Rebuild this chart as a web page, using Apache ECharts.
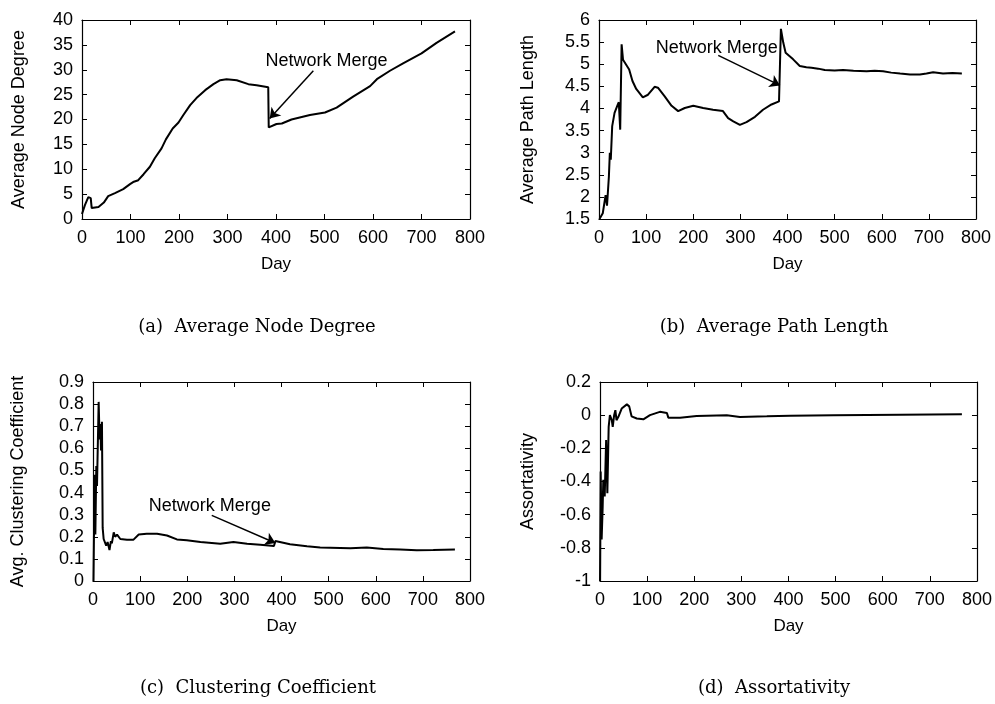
<!DOCTYPE html>
<html>
<head>
<meta charset="utf-8">
<script src="https://cdn.jsdelivr.net/npm/echarts@6/dist/echarts.min.js"></script>
<style>html,body{margin:0;padding:0;background:#fff;}#c{width:995px;height:704px;}</style>
</head>
<body>
<div id="c"></div>
<script>
// ---- Data ----
var xTicks = [0, 100, 200, 300, 400, 500, 600, 700, 800];

// (a) Average Node Degree
var daysA = [0, 6, 13, 18, 20, 34, 45, 54, 68, 85, 99, 107, 116, 127, 140, 150, 164, 173, 187, 199, 209, 223, 236, 254, 271, 285, 298, 319, 343, 360, 384, 385, 401, 412, 432, 470, 501, 525, 559, 594, 608, 635, 662, 700, 731, 769];
var degreeA = [1.0, 2.8, 4.4, 4.2, 2.2, 2.4, 3.3, 4.6, 5.2, 6.0, 7.0, 7.5, 7.8, 9.0, 10.5, 12.2, 14.2, 16.0, 18.2, 19.4, 20.9, 22.9, 24.3, 25.9, 27.1, 27.9, 28.1, 27.9, 27.1, 26.9, 26.5, 18.4, 19.1, 19.2, 20.0, 20.9, 21.4, 22.4, 24.6, 26.7, 28.1, 29.8, 31.3, 33.3, 35.4, 37.7];

// (b) Average Path Length
var daysB = [1, 8, 14, 17, 21, 23, 25, 28, 33, 40, 42, 45, 48, 51, 57, 64, 71, 79, 93, 104, 118, 125, 139, 154, 168, 182, 200, 221, 242, 263, 274, 285, 299, 313, 331, 348, 366, 382, 386, 391, 396, 412, 426, 440, 451, 465, 479, 500, 518, 540, 568, 585, 603, 620, 639, 660, 681, 695, 709, 730, 750, 770];
var pathB = [1.5, 1.63, 2.04, 1.8, 2.46, 3.0, 2.84, 3.6, 3.9, 4.09, 4.14, 3.52, 5.45, 5.1, 5.0, 4.88, 4.62, 4.44, 4.25, 4.31, 4.49, 4.47, 4.28, 4.06, 3.94, 4.01, 4.06, 4.01, 3.97, 3.94, 3.78, 3.71, 3.63, 3.69, 3.81, 3.97, 4.09, 4.16, 5.8, 5.49, 5.26, 5.11, 4.96, 4.93, 4.92, 4.90, 4.87, 4.86, 4.87, 4.85, 4.84, 4.85, 4.84, 4.81, 4.79, 4.77, 4.77, 4.79, 4.82, 4.79, 4.80, 4.79];

// (c) Avg. Clustering Coefficient
var daysC = [1, 3.5, 5, 7, 8.5, 12, 14, 15.5, 17, 19, 20.5, 22.6, 28, 31, 35, 38, 40, 44, 47, 51, 58, 72, 86, 97, 114, 136, 157, 178, 199, 228, 270, 298, 327, 355, 384, 387, 418, 454, 482, 546, 581, 616, 652, 687, 722, 768];
var clustC = [0, 0.48, 0.21, 0.52, 0.43, 0.81, 0.64, 0.71, 0.59, 0.72, 0.24, 0.19, 0.16, 0.176, 0.14, 0.18, 0.17, 0.22, 0.2, 0.21, 0.19, 0.187, 0.187, 0.21, 0.214, 0.214, 0.206, 0.188, 0.184, 0.176, 0.169, 0.176, 0.169, 0.164, 0.158, 0.181, 0.166, 0.157, 0.151, 0.148, 0.151, 0.145, 0.142, 0.139, 0.140, 0.142];

// (d) Assortativity
var daysD = [0, 1.4, 3.5, 5.7, 7, 10, 13, 15.6, 18.4, 21, 25, 27, 30, 32.6, 35, 39, 46, 57, 62, 67, 78, 92, 106, 127, 142, 145, 170, 205, 269, 297, 354, 404, 496, 637, 768];
var assortD = [-1.0, -0.34, -0.75, -0.55, -0.39, -0.49, -0.15, -0.47, -0.07, 0.0, -0.03, -0.07, 0.0, 0.03, -0.03, -0.01, 0.04, 0.065, 0.053, -0.007, -0.02, -0.025, 0.0, 0.02, 0.013, -0.015, -0.015, -0.005, 0.0, -0.011, -0.007, -0.003, -0.001, 0.003, 0.005];

// annotations: [textDay, textVal, arrowFromDay, arrowFromVal, arrowToDay, arrowToVal]
var mergeA = [504, 31.8, 477, 29.8, 387, 20.2];
var mergeB = [250, 5.37, 253, 5.2, 384, 4.52];
var mergeC = [248, 0.34, 252, 0.297, 387, 0.172];

var yNames = ['Average Node Degree', 'Average Path Length', 'Avg. Clustering Coefficient', 'Assortativity'];
var captions = ['(a)  Average Node Degree', '(b)  Average Path Length', '(c)  Clustering Coefficient', '(d)  Assortativity'];

function zip(xs, ys) { return xs.map(function (x, i) { return [x, ys[i]]; }); }

// ---- Layout ----
var SANS = '"Liberation Sans", Arial, Helvetica, sans-serif';
var grids = [
  { left: 82, top: 20, width: 388, height: 199 },
  { left: 599, top: 20, width: 377, height: 199 },
  { left: 93, top: 382, width: 377, height: 199 },
  { left: 600, top: 382, width: 377, height: 199 }
];
var yRanges = [
  { min: 0, max: 40, interval: 5 },
  { min: 1.5, max: 6, interval: 0.5 },
  { min: 0, max: 0.9, interval: 0.1 },
  { min: -1, max: 0.2, interval: 0.2 }
];
var yNameGaps = [54, 62, 66, 63];
var tick = { show: true, inside: true, length: 5, lineStyle: { color: '#000', width: 1 } };
var line = { show: true, onZero: false, lineStyle: { color: '#000', width: 1.2 } };

var xAxes = [], yAxes = [];
for (var g = 0; g < 4; g++) {
  xAxes.push({
    type: 'value', gridIndex: g, min: 0, max: 800, interval: 100, position: 'bottom',
    name: 'Day', nameLocation: 'middle', nameGap: 37,
    nameTextStyle: { color: '#000', fontSize: 17, fontFamily: SANS },
    axisLine: line, axisTick: tick, splitLine: { show: false },
    axisLabel: { color: '#000', fontSize: 18, fontFamily: SANS, margin: 10 }
  });
  xAxes.push({
    type: 'value', gridIndex: g, min: 0, max: 800, interval: 100, position: 'top',
    axisLine: line, axisTick: tick, splitLine: { show: false }, axisLabel: { show: false }
  });
  yAxes.push({
    type: 'value', gridIndex: g, min: yRanges[g].min, max: yRanges[g].max, interval: yRanges[g].interval, position: 'left',
    name: yNames[g], nameLocation: 'middle', nameGap: yNameGaps[g],
    nameTextStyle: { color: '#000', fontSize: 18, fontFamily: SANS },
    axisLine: line, axisTick: tick, splitLine: { show: false },
    axisLabel: { color: '#000', fontSize: 18, fontFamily: SANS, margin: 9 }
  });
  yAxes.push({
    type: 'value', gridIndex: g, min: yRanges[g].min, max: yRanges[g].max, interval: yRanges[g].interval, position: 'right',
    axisLine: line, axisTick: tick, splitLine: { show: false }, axisLabel: { show: false }
  });
}

function mergeMarks(m) {
  return {
    markLine: {
      silent: true, animation: false,
      symbol: ['none', 'arrow'], symbolSize: 10,
      lineStyle: { color: '#000', width: 1.5, type: 'solid' },
      label: { show: false },
      data: [[
        { coord: [m[2], m[3]], symbol: 'none' },
        { coord: [m[4], m[5]], symbol: 'arrow', symbolSize: 10 }
      ]]
    },
    markPoint: {
      silent: true, animation: false,
      symbol: 'circle', symbolSize: 1, itemStyle: { color: 'rgba(0,0,0,0)' },
      label: { show: true, position: 'inside', formatter: 'Network Merge', color: '#000', fontSize: 18, fontFamily: SANS },
      data: [{ coord: [m[0], m[1]] }]
    }
  };
}

var datasets = [zip(daysA, degreeA), zip(daysB, pathB), zip(daysC, clustC), zip(daysD, assortD)];
var merges = [mergeA, mergeB, mergeC, null];
var series = [];
for (var s = 0; s < 4; s++) {
  var ser = {
    type: 'line', xAxisIndex: 2 * s, yAxisIndex: 2 * s, data: datasets[s],
    showSymbol: false, symbol: 'none', smooth: false,
    lineStyle: { color: '#000', width: 2 }, itemStyle: { color: '#000' }
  };
  if (merges[s]) { var mm = mergeMarks(merges[s]); ser.markLine = mm.markLine; ser.markPoint = mm.markPoint; }
  series.push(ser);
}

var SERIF = '"DejaVu Serif", "Liberation Serif", serif';
var capPos = [[257, 327], [774, 327], [258, 688], [774, 688]];
var graphics = captions.map(function (t, i) {
  return { type: 'text', x: capPos[i][0], y: capPos[i][1],
    style: { text: t, fill: '#000', font: '18px ' + SERIF, textAlign: 'center', textVerticalAlign: 'middle' } };
});

var chart = echarts.init(document.getElementById('c'), null, { renderer: 'canvas' });
chart.setOption({
  animation: false,
  backgroundColor: '#fff',
  grid: grids.map(function (gr) { return Object.assign({ containLabel: false, show: false }, gr); }),
  xAxis: xAxes,
  yAxis: yAxes,
  series: series,
  graphic: graphics
});
</script>
</body>
</html>
